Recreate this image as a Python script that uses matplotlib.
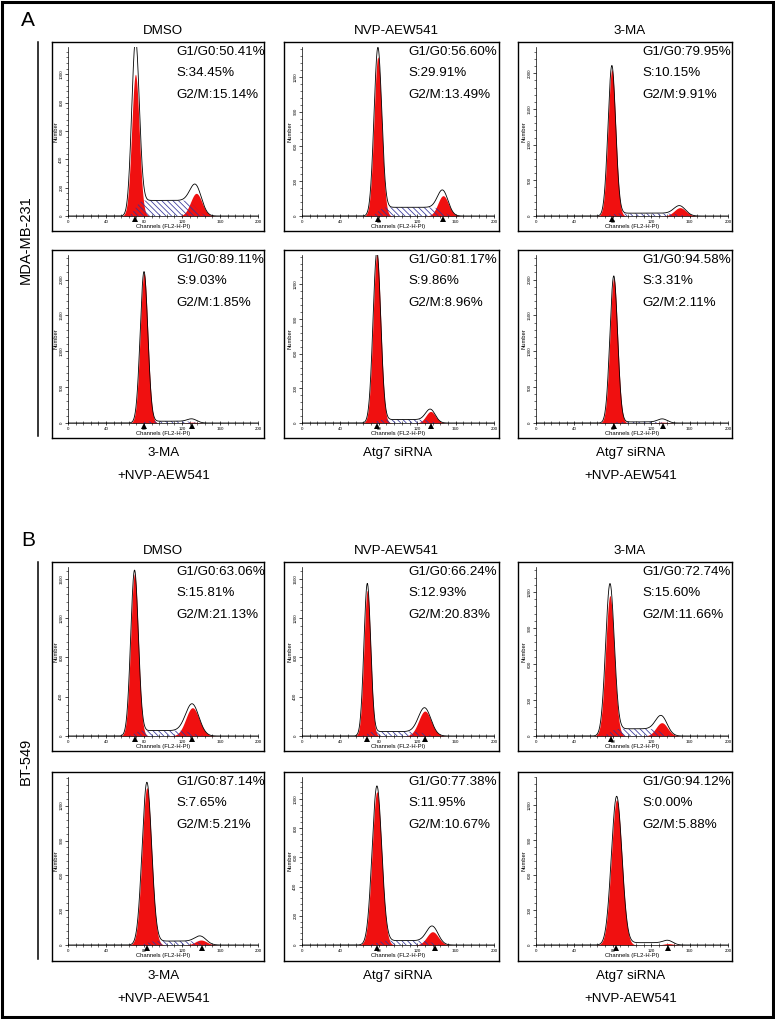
import math
import numpy as np
import matplotlib
matplotlib.use("Agg")
import matplotlib.pyplot as plt
from matplotlib.patches import Rectangle
from matplotlib.lines import Line2D
from matplotlib.transforms import ScaledTranslation
from matplotlib.ticker import MultipleLocator

plt.rcParams['font.family'] = ['Liberation Sans', 'DejaVu Sans']
plt.rcParams['hatch.linewidth'] = 0.55

# ---------------- data ----------------
section_labels = ["A", "B"]
cell_lines = ["MDA-MB-231", "BT-549"]
top_titles = ["DMSO", "NVP-AEW541", "3-MA"]
bottom_line1 = ["3-MA", "Atg7 siRNA", "Atg7 siRNA"]
bottom_line2 = ["+NVP-AEW541", "", "+NVP-AEW541"]

# panel order: A-top (3), A-bottom (3), B-top (3), B-bottom (3)
g1_pct = [50.41, 56.60, 79.95, 89.11, 81.17, 94.58, 63.06, 66.24, 72.74, 87.14, 77.38, 94.12]
s_pct = [34.45, 29.91, 10.15, 9.03, 9.86, 3.31, 15.81, 12.93, 15.60, 7.65, 11.95, 0.00]
g2m_pct = [15.14, 13.49, 9.91, 1.85, 8.96, 2.11, 21.13, 20.83, 11.66, 5.21, 10.67, 5.88]

y_max = [1193, 1456, 2369, 2344, 1454, 2344, 1719, 1719, 1408, 1447, 1151, 1440]
y_step = [200, 300, 500, 500, 300, 500, 400, 400, 300, 300, 200, 300]

# ModFit components: G1 peak, G2 peak, S-phase level (fit = red/hatched, raw = outline)
g1_mean = [71, 79, 79, 80, 78, 81, 70, 68, 77, 83, 78, 84]
g1_sd = [4, 4, 4, 4, 4, 4, 4, 3.5, 4.5, 5, 5, 5.5]
g1_fit = [1000, 1370, 2050, 2090, 1460, 2020, 1650, 1480, 1170, 1355, 1050, 1245]
g1_raw = [1190, 1415, 2090, 2100, 1470, 2045, 1660, 1530, 1240, 1385, 1075, 1265]
g2_mean = [135, 147, 150, 131, 134, 132, 131, 128, 131, 140, 136, 138]
g2_sd = [6, 5.5, 6, 5, 5, 5, 7, 6.5, 6, 6, 6, 5]
g2_fit = [160, 175, 117, 12, 100, 12, 288, 254, 111, 43, 91, 12]
g2_raw = [165, 185, 125, 45, 105, 50, 300, 265, 140, 60, 115, 30]
s_fit = [110, 75, 35, 25, 30, 15, 55, 45, 60, 34, 30, 0]
s_raw = [110, 75, 40, 25, 30, 15, 55, 45, 60, 34, 30, 20]
markers = [[71], [79, 147], [79], [80, 130], [78, 134], [81, 132],
           [70, 131], [68, 128], [78], [83, 141], [78, 139], [83, 138]]

x_ticks = [0, 40, 80, 120, 160, 200]

# ---------------- layout (pixels) ----------------
W, H = 775, 1019
fig = plt.figure(figsize=(W / 100, H / 100), dpi=100)

col_box_left = [52, 284, 518]
col_box_right = [264, 499, 732]
col_axis_x0 = [68, 302, 536]
col_axis_x1 = [258, 494, 728]
row_box_top = [42, 250, 562, 772]
row_baseline = [216, 423, 736, 945]
row_box_bottom = [231, 438, 751, 961]


def px_axes(x0, y0, x1, y1, **kw):
    return fig.add_axes([x0 / W, 1 - y1 / H, (x1 - x0) / W, (y1 - y0) / H], **kw)


def ftext(x, y, s, **kw):
    fig.text(x / W, 1 - y / H, s, **kw)


_erf = np.vectorize(math.erf)


def gauss(x, m, s):
    return np.exp(-0.5 * ((x - m) / s) ** 2)


def plateau(x, m1, s1, m2, s2):
    return 0.5 * (_erf((x - m1) / (math.sqrt(2) * s1)) - _erf((x - m2) / (math.sqrt(2) * s2)))


xs = np.linspace(0, 200, 1601)
RED = '#f01010'
HATCH = '#34349a'

# outer frame
frame_ax = fig.add_axes([0, 0, 1, 1])
frame_ax.set_xlim(0, W)
frame_ax.set_ylim(H, 0)
frame_ax.axis('off')
frame_ax.add_patch(Rectangle((1.5, 1.5), W - 4, H - 4, fill=False, lw=2.2, ec='black'))

for p in range(12):
    r, c = divmod(p, 3)
    bl, br = col_box_left[c], col_box_right[c]
    bt, bb = row_box_top[r], row_box_bottom[r]
    base = row_baseline[r]

    box = px_axes(bl, bt, br, bb)
    box.set_xticks([])
    box.set_yticks([])
    for sp in box.spines.values():
        sp.set_linewidth(1.0)

    ax = px_axes(col_axis_x0[c], bt + 5, col_axis_x1[c], base)
    ax.patch.set_alpha(0)
    ax.spines['top'].set_visible(False)
    ax.spines['right'].set_visible(False)
    ax.spines['left'].set_linewidth(0.5)
    ax.spines['bottom'].set_linewidth(0.5)
    ax.set_xlim(0, 200)
    ax.set_ylim(0, y_max[p])
    ax.set_xticks(x_ticks)
    ax.xaxis.set_minor_locator(MultipleLocator(8))
    ax.yaxis.set_major_locator(MultipleLocator(y_step[p]))
    ax.yaxis.set_minor_locator(MultipleLocator(y_step[p] / 5))
    ax.tick_params(axis='x', which='major', direction='inout', length=3.5, width=0.5,
                   labelsize=3.2, pad=0.8)
    ax.tick_params(axis='x', which='minor', direction='inout', length=2.5, width=0.4)
    ax.tick_params(axis='y', which='major', direction='out', length=2.5, width=0.5,
                   labelsize=3.2, pad=0.8, labelrotation=90)
    ax.tick_params(axis='y', which='minor', direction='out', length=1.5, width=0.4)
    for lab in ax.get_yticklabels():
        lab.set_va('center')
    ax.set_xlabel('Channels (FL2-H-PI)', fontsize=4.2, labelpad=0.3)
    ax.set_ylabel('Number', fontsize=4.2, labelpad=0.5)

    G1f = g1_fit[p] * gauss(xs, g1_mean[p], g1_sd[p])
    G2f = g2_fit[p] * gauss(xs, g2_mean[p], g2_sd[p])
    pl = plateau(xs, g1_mean[p], g1_sd[p], g2_mean[p], g2_sd[p])
    Sf = s_fit[p] * pl
    raw = (g1_raw[p] * gauss(xs, g1_mean[p], g1_sd[p]) + s_raw[p] * pl
           + g2_raw[p] * gauss(xs, g2_mean[p], g2_sd[p]))

    ax.fill_between(xs, 0, G1f, color=RED, lw=0, zorder=2)
    ax.fill_between(xs, 0, G2f, color=RED, lw=0, zorder=2)
    if s_fit[p] > 0:
        ax.fill_between(xs, 0, Sf, facecolor='none', edgecolor=HATCH,
                        hatch='\\\\\\\\\\\\', lw=0, zorder=3)
    ax.plot(xs, raw, color='black', lw=0.6, zorder=4)

    off = ScaledTranslation(0, -3.2 / 100, fig.dpi_scale_trans)
    for m in markers[p]:
        ax.plot([m], [0], marker='^', color='black', ms=4.2, mew=0, linestyle='none',
                transform=ax.transData + off, clip_on=False, zorder=6)

    # phase annotations
    for i, (lab, val) in enumerate([("G1/G0", g1_pct[p]), ("S", s_pct[p]), ("G2/M", g2m_pct[p])]):
        ftext(bl + 124, bt + 10 + i * 21.3, f"{lab}:{val:.2f}%", fontsize=9.6,
              ha='left', va='center')

    cx = (bl + br) / 2 + 5
    if r in (0, 2):
        ftext(cx, bt - 11, top_titles[c], fontsize=9.6, ha='center', va='center')
    else:
        ftext(cx + 1, bb + 15, bottom_line1[c], fontsize=9.6, ha='center', va='center')
        if bottom_line2[c]:
            ftext(cx + 1, bb + 38, bottom_line2[c], fontsize=9.6, ha='center', va='center')

# section letters, cell-line labels and brackets
for k in range(2):
    top = row_box_top[2 * k]
    bottom = row_box_bottom[2 * k + 1]
    ftext(28, top - 21, section_labels[k], fontsize=15, ha='center', va='center')
    frame_ax.add_line(Line2D([38, 38], [top, bottom - 2], color='black', lw=1.1))
    ftext(26, (top + bottom) / 2, cell_lines[k], fontsize=10.5, rotation=90,
          ha='center', va='center')

fig.savefig('out.png', dpi=100)
